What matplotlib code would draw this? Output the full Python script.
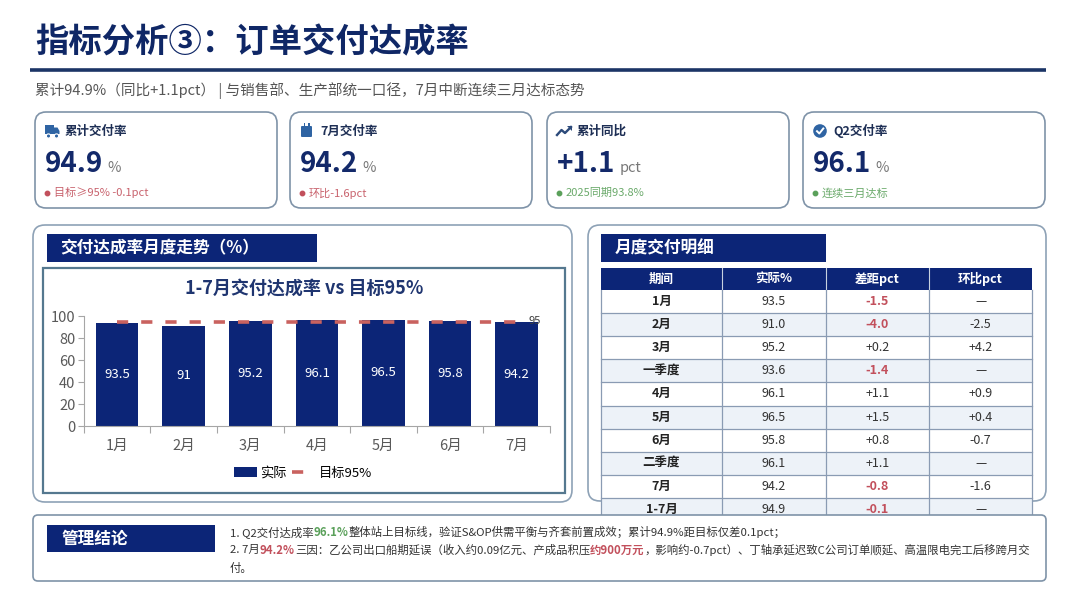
import matplotlib
matplotlib.use('Agg')
import matplotlib.pyplot as plt
from matplotlib.patches import FancyBboxPatch, Rectangle, Circle, Polygon, Patch
from matplotlib.lines import Line2D
import numpy as np

plt.rcParams['font.family'] = ['Noto Sans CJK SC', 'DejaVu Sans']

#--chart data
months = ['1月', '2月', '3月', '4月', '5月', '6月', '7月']
actual = [93.5, 91.0, 95.2, 96.1, 96.5, 95.8, 94.2]
target = 95

#--kpi cards
kpi_titles = ['累计交付率', '7月交付率', '累计同比', 'Q2交付率']
kpi_values = ['94.9', '94.2', '+1.1', '96.1']
kpi_units = ['%', '%', 'pct', '%']
kpi_notes = ['目标≥95% -0.1pct', '环比-1.6pct', '2025同期93.8%', '连续三月达标']
kpi_good = [False, False, True, True]

#--table
tbl_cols = ['期间', '实际%', '差距pct', '环比pct']
tbl_period = ['1月', '2月', '3月', '一季度', '4月', '5月', '6月', '二季度', '7月', '1-7月']
tbl_actual = ['93.5', '91.0', '95.2', '93.6', '96.1', '96.5', '95.8', '96.1', '94.2', '94.9']
tbl_gap = ['-1.5', '-4.0', '+0.2', '-1.4', '+1.1', '+1.5', '+0.8', '+1.1', '-0.8', '-0.1']
tbl_mom = ['—', '-2.5', '+4.2', '—', '+0.9', '+0.4', '-0.7', '—', '-1.6', '—']

#--texts
title = '指标分析③：订单交付达成率'
subtitle = '累计94.9%（同比+1.1pct） | 与销售部、生产部统一口径，7月中断连续三月达标态势'
concl = [
    [('1. Q2交付达成率', 'n'), ('96.1%', 'g'), ('整体站上目标线，验证S&OP供需平衡与齐套前置成效；累计94.9%距目标仅差0.1pct；', 'n')],
    [('2. 7月', 'n'), ('94.2%', 'r'), ('三因：乙公司出口船期延误（收入约0.09亿元、产成品积压', 'n'), ('约900万元', 'r'),
     ('，影响约-0.7pct）、丁轴承延迟致C公司订单顺延、高温限电完工后移跨月交', 'n')],
    [('付。', 'n')],
]

NAVY = '#0c2577'
TXT_NAVY = '#13296a'
RED = '#c2505c'
GREEN = '#5aa05a'
EDGE = '#8296ab'
ICON = '#2f64a3'

fig = plt.figure(figsize=(10.8, 6.08), dpi=100)
bg = fig.add_axes([0, 0, 1, 1])
bg.set_xlim(0, 1080)
bg.set_ylim(608, 0)
bg.axis('off')
rend = fig.canvas.get_renderer()


def rbox(x0, y0, x1, y1, r=10, ec=EDGE, fc='white', lw=1.2, z=1):
    bg.add_patch(FancyBboxPatch((x0 + r, y0 + r), x1 - x0 - 2 * r, y1 - y0 - 2 * r,
                                boxstyle='round,pad=%g' % r, ec=ec, fc=fc, lw=lw, zorder=z))


def seq_text(x, y, parts, size, z=7):
    cols = {'n': '#333333', 'g': GREEN, 'r': RED}
    for s, k in parts:
        t = bg.text(x, y, s, fontsize=size, color=cols[k], fontweight='bold' if k != 'n' else 'normal',
                    va='center', ha='left', zorder=z)
        x += t.get_window_extent(renderer=rend).width


#--title block
bg.text(35, 43, title, fontsize=24, fontweight='bold', color='#0f2766', va='center', ha='left')
bg.plot([30, 1046], [70, 70], color='#1b3466', lw=2.6, solid_capstyle='butt')
bg.text(35, 91, subtitle, fontsize=10.5, color='#555555', va='center', ha='left')

#--kpi cards
card_x = [35, 290, 547, 803]
card_w = 242
for i, x0 in enumerate(card_x):
    rbox(x0, 112, x0 + card_w, 208, r=11, ec='#7f93a8')
    bg.text(x0 + 30, 131, kpi_titles[i], fontsize=9, fontweight='bold', color='#1e2f55', va='center')
    t = bg.text(x0 + 10, 172, kpi_values[i], fontsize=20, fontweight='bold', color=TXT_NAVY, va='baseline')
    w = t.get_window_extent(renderer=rend).width
    bg.text(x0 + 14 + w, 172, kpi_units[i], fontsize=10.5, color='#777777', va='baseline')
    c = GREEN if kpi_good[i] else RED
    bg.plot(x0 + 12, 193, 'o', ms=3.2, color=c)
    bg.text(x0 + 19, 193, kpi_notes[i], fontsize=8, color=c, va='center', alpha=0.9)

#--icons
bg.add_patch(Rectangle((45, 125), 8.5, 9, fc=ICON, ec='none'))
bg.add_patch(Polygon([(54, 127.5), (57.5, 127.5), (59.5, 131), (59.5, 134), (54, 134)], fc=ICON, ec='none'))
bg.add_patch(Circle((48.5, 136), 2.1, fc=ICON, ec='white', lw=0.8))
bg.add_patch(Circle((56.5, 136), 2.1, fc=ICON, ec='white', lw=0.8))
bg.add_patch(FancyBboxPatch((302, 127), 9, 9, boxstyle='round,pad=1', fc=ICON, ec='none'))
bg.add_patch(Rectangle((303.5, 123), 1.6, 3.5, fc=ICON, ec='none'))
bg.add_patch(Rectangle((308, 123), 1.6, 3.5, fc=ICON, ec='none'))
bg.plot([557, 561.5, 565, 571], [135, 130, 133, 127], color='#2c4a7a', lw=1.7)
bg.add_patch(Polygon([(567, 126.3), (572, 126.3), (572, 131)], fc='#2c4a7a', ec='none'))
bg.add_patch(Circle((820, 131), 6.8, fc=ICON, ec='none'))
bg.plot([817, 819.3, 823.3], [131.2, 133.5, 128.5], color='white', lw=1.4)

#--left panel
rbox(33, 225, 572, 502, r=12, ec='#8ea2b6')
bg.add_patch(Rectangle((47, 234), 270, 28, fc=NAVY, ec='none'))
bg.text(60, 248, '交付达成率月度走势（%）', fontsize=12, fontweight='bold', color='white', va='center')
bg.add_patch(Rectangle((43, 268), 522, 225, fc='white', ec='#55788f', lw=1.6))
bg.text(304, 288, '1-7月交付达成率 vs 目标95%', fontsize=13, fontweight='bold', color='#1f3570',
        va='center', ha='center')

ax = fig.add_axes([83.7 / 1080, 1 - 426 / 608, (550 - 83.7) / 1080, 110 / 608])
x = np.arange(len(months))
bars = ax.bar(x, actual, width=0.64, color=NAVY, zorder=2)
ax.bar_label(bars, fmt='%g', label_type='center', color='white', fontsize=9.5)
ax.plot(x, [target] * len(x), color='#c9625f', lw=2.6, dashes=(3.1, 3.6), zorder=3)
ax.text(x[-1] + 0.18, target, '%d' % target, fontsize=8, color='#404040', va='center', ha='left')
ax.set_xlim(-0.5, len(months) - 0.5)
ax.set_ylim(0, 100)
ax.set_yticks(np.arange(0, 101, 20))
ax.set_xticks(np.arange(-0.5, len(months), 1))
ax.set_xticklabels([])
ax.set_xticks(x, minor=True)
ax.set_xticklabels(months, minor=True)
ax.tick_params(axis='x', which='major', length=5, color='#a6a6a6')
ax.tick_params(axis='x', which='minor', length=0, pad=9, labelsize=10.5, labelcolor='#595959')
ax.tick_params(axis='y', length=4, color='#a6a6a6', labelsize=10.5, labelcolor='#595959', pad=2)
for s in ['top', 'right']:
    ax.spines[s].set_visible(False)
for s in ['left', 'bottom']:
    ax.spines[s].set_color('#a6a6a6')
ax.patch.set_alpha(0)
handles = [Patch(fc=NAVY, ec='none'), Line2D([0], [0], color='#c9625f', lw=2.6, dashes=(3.1, 3.6))]
fig.legend(handles, ['实际', '目标95%'], loc='center', bbox_to_anchor=(303 / 1080, 1 - 473 / 608),
           ncol=2, frameon=False, fontsize=9.5, handlelength=1.7, handletextpad=0.3, columnspacing=0.4)

#--right panel
rbox(588, 225, 1046, 501, r=12, ec='#8ea2b6')
bg.add_patch(Rectangle((601, 234), 225, 28, fc=NAVY, ec='none'))
bg.text(615, 248, '月度交付明细', fontsize=12, fontweight='bold', color='white', va='center')

col_x = [601, 722, 826, 929, 1032]
head_y0, head_y1, row_h = 268, 290, 23.1
bg.add_patch(Rectangle((col_x[0], head_y0), col_x[-1] - col_x[0], head_y1 - head_y0, fc=NAVY, ec='none', zorder=2))
for j, name in enumerate(tbl_cols):
    bg.text((col_x[j] + col_x[j + 1]) / 2, (head_y0 + head_y1) / 2, name, fontsize=9, fontweight='bold',
            color='white', ha='center', va='center', zorder=3)
for j in range(1, 4):
    bg.plot([col_x[j], col_x[j]], [head_y0, head_y1], color='#c8d2e0', lw=0.8, zorder=3)
rows = list(zip(tbl_period, tbl_actual, tbl_gap, tbl_mom))
for i, row in enumerate(rows):
    y0 = head_y1 + i * row_h
    bg.add_patch(Rectangle((col_x[0], y0), col_x[-1] - col_x[0], row_h,
                           fc='white' if i % 2 == 0 else '#edf2f8', ec='none', zorder=2))
    bg.plot([col_x[0], col_x[-1]], [y0 + row_h, y0 + row_h], color='#8a9bb3', lw=0.9, zorder=3)
    for j, val in enumerate(row):
        col = '#333333'
        wt = 'normal'
        if j == 0:
            wt = 'bold'
            col = '#222222'
        if j == 2 and val.startswith('-'):
            col = RED
            wt = 'bold'
        bg.text((col_x[j] + col_x[j + 1]) / 2, y0 + row_h / 2, val, fontsize=9, fontweight=wt,
                color=col, ha='center', va='center', zorder=3)
tbl_bot = head_y1 + len(rows) * row_h
for xx in col_x:
    bg.plot([xx, xx], [head_y1, tbl_bot], color='#8a9bb3', lw=0.9, zorder=3)

#--bottom panel
rbox(33, 515, 1046, 581, r=5, ec='#7f93a8', z=5)
bg.add_patch(Rectangle((47, 525), 168, 27, fc=NAVY, ec='none', zorder=6))
bg.text(62, 538.5, '管理结论', fontsize=12, fontweight='bold', color='white', va='center', zorder=7)
for k, parts in enumerate(concl):
    seq_text(230, 532 + 18 * k, parts, 8.2)

fig.savefig('out.png', dpi=100)
